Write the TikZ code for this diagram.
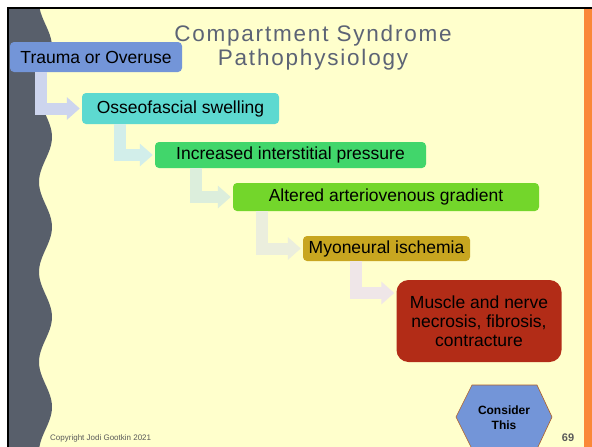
\documentclass[tikz,border=0pt]{standalone}
\usepackage{fontspec}
\setmainfont{Liberation Sans}
\newfontfamily\titlefont[LetterSpace=8]{Liberation Sans}
\usetikzlibrary{arrows.meta,positioning}
\definecolor{cpaper}{HTML}{FFFFCC}
\definecolor{cslate}{HTML}{585F6B}
\definecolor{corange}{HTML}{FA8838}
\definecolor{ctitle}{HTML}{5C6375}
\definecolor{cblue}{HTML}{7395D8}
\definecolor{cteal}{HTML}{5DD9D0}
\definecolor{cgreen}{HTML}{41D66B}
\definecolor{clime}{HTML}{73D62B}
\definecolor{cgold}{HTML}{C8A620}
\definecolor{cred}{HTML}{B22C17}
\definecolor{fblue}{HTML}{CDD5EE}
\definecolor{fteal}{HTML}{D2EEEA}
\definecolor{fgreen}{HTML}{DCEEDC}
\definecolor{flime}{HTML}{EBEEDD}
\definecolor{fpink}{HTML}{EFE6E8}
\tikzset{
  stage/.style={rounded corners=4pt,align=center,font=\fontsize{17.5}{19}\selectfont,inner sep=0pt,text=black},
  flow/.style={line width=12pt,-{Triangle[length=13pt,width=22pt]},draw=#1,shorten >=2pt},
  hexa/.style={fill=cblue,draw=corange!70!black,line width=0.6pt},
  note/.style={text=black!65,inner sep=0pt},
}

\begin{document}
\begin{tikzpicture}[x=1pt,y=-1pt]
  \useasboundingbox (0,0) rectangle (592,447);
  % slide background
  \fill[white] (0,0) rectangle (592,447);
  \fill[cpaper] (9,9) rectangle (584,447);
  \fill[corange] (584,9) rectangle (592,447);
  \fill[cslate] (9,9) -- plot[variable=\t,domain=9:447,samples=120] ({45.5+6.5*cos(4*(\t-47))},\t) -- (9,447) -- cycle;
  \fill[black] (7,7) rectangle (592,9);
  \fill[black] (7,7) rectangle (9,447);

  % title
  \node[text=ctitle,align=center,inner sep=0pt,anchor=north,font=\titlefont\fontsize{22.5}{24}\selectfont] (title) at (313,25) {Compartment Syndrome\\Pathophysiology};

  % stages
  \node[stage,fill=cblue,minimum width=172,minimum height=30] (trauma) at (96,57) {Trauma or Overuse};
  \node[stage,fill=cteal,minimum width=197,minimum height=31] (swell) at (180.5,108.5) {Osseofascial swelling};
  \node[stage,fill=cgreen,minimum width=271,minimum height=26] (press) at (290.5,155) {Increased interstitial pressure};
  \node[stage,fill=clime,minimum width=306,minimum height=28] (grad) at (386,197) {Altered arteriovenous gradient};
  \node[stage,fill=cgold,minimum width=167,minimum height=25] (isch) at (386.5,248.5) {Myoneural ischemia};
  \node[stage,fill=cred,rounded corners=12pt,minimum width=165,minimum height=82] (necro) at (479,321) {Muscle and nerve\\necrosis, fibrosis,\\contracture};

  % bent arrows
  \draw[flow=fblue] ([xshift=31]trauma.south west) |- (swell.west);
  \draw[flow=fteal] ([xshift=38]swell.south west) |- (press.west);
  \draw[flow=fgreen] ([xshift=41]press.south west) |- (grad.west);
  \draw[flow=flime] ([xshift=29]grad.south west) |- (isch.west);
  \draw[flow=fpink] ([xshift=53]isch.south west) |- ([yshift=28]necro.west);

  % consider this
  \draw[hexa] (456,417) -- (472,385) -- (537,385) -- (552,417) -- (537,449) -- (472,449) -- cycle;
  \node[align=center,inner sep=0pt,font=\bfseries\fontsize{12}{15}\selectfont] (consider) at (504,418) {Consider\\This};

  % footer
  \node[note,anchor=base west,font=\fontsize{8}{9}\selectfont] (copy) at (50,440) {Copyright Jodi Gootkin 2021};
  \node[note,anchor=base,font=\bfseries\fontsize{11}{12}\selectfont] (page) at (568,441) {69};
\end{tikzpicture}
\end{document}
